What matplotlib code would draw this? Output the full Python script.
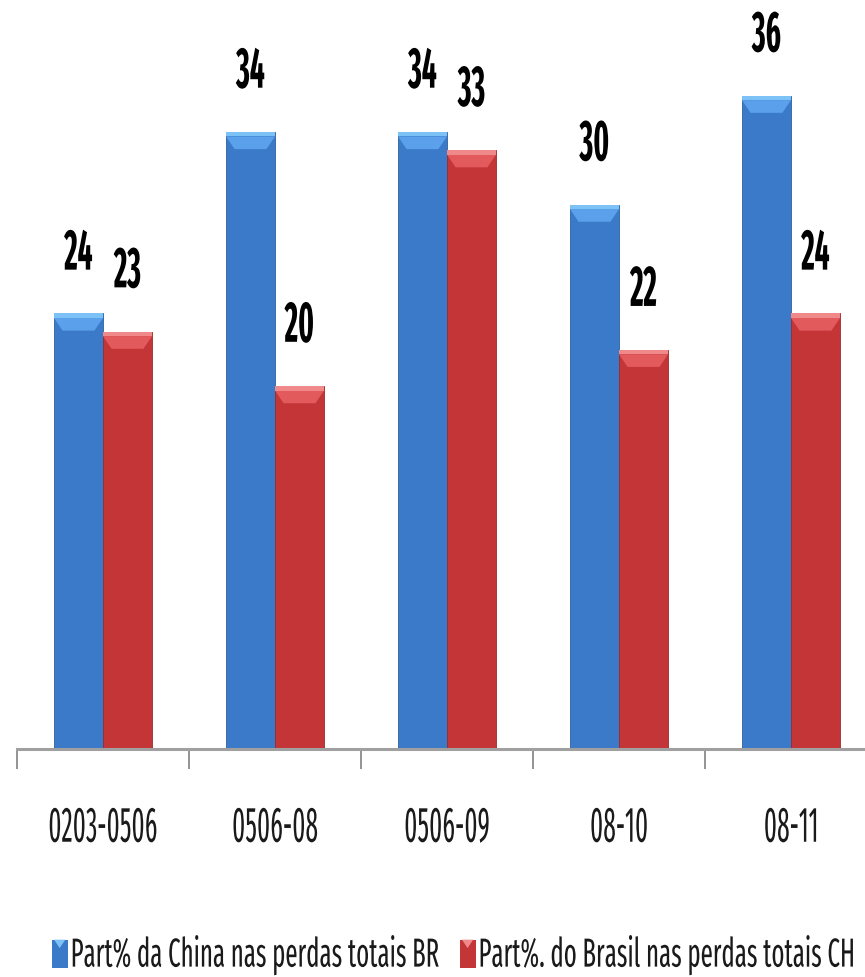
import matplotlib
matplotlib.use("Agg")
import matplotlib.pyplot as plt
import matplotlib.patheffects as pe
from matplotlib import font_manager
from matplotlib.font_manager import FontProperties
from matplotlib.patches import Polygon, Rectangle, Patch
from matplotlib.textpath import TextPath
from matplotlib.transforms import Affine2D
from matplotlib.legend_handler import HandlerBase
import numpy as np

# ---- data -------------------------------------------------------------
categories = ["0203-0506", "0506-08", "0506-09", "08-10", "08-11"]
china_share_br = [24, 34, 34, 30, 36]    # Part% da China nas perdas totais BR
brasil_share_ch = [23, 20, 33, 22, 24]   # Part%. do Brasil nas perdas totais CH
series_labels = ["Part% da China nas perdas totais BR",
                 "Part%. do Brasil nas perdas totais CH"]

# ---- styling ----------------------------------------------------------
BLUE, BLUE_MID, BLUE_TOP = "#3b7ac9", "#5aa0ea", "#7cc2f7"
RED, RED_MID, RED_TOP = "#c43538", "#e35a5c", "#f08a8a"
DPI = 100


def narrow_family():
    """Pick the narrowest sans family that is installed."""
    best = None
    for f in font_manager.fontManager.ttflist:
        name = f.name
        if any(k in name for k in ("Mono", "Serif", "CJK", "Math")):
            continue
        if "ExtraCondensed" in name or "Extra Condensed" in name:
            rank = 0
        elif "Narrow" in name:
            rank = 1
        elif "Condensed" in name or str(f.stretch) in ("condensed", "semi-condensed"):
            rank = 2
        else:
            continue
        if best is None or rank < best[0]:
            best = (rank, name, str(f.stretch))
    if best is None:
        return "DejaVu Sans", "condensed"
    return best[1], best[2]


FAMILY, STRETCH = narrow_family()


def fitted(sample, width_px, height_px, weight="normal", height_sample=None):
    """Font size giving `sample` the wanted width, plus the vertical
    stretch that brings its glyphs to the wanted height."""
    prop = FontProperties(family=FAMILY, stretch=STRETCH, weight=weight)
    ext = TextPath((0, 0), sample, size=100, prop=prop).get_extents()
    size = width_px * 72 / DPI * 100 / ext.width
    hs = height_sample or sample
    hext = TextPath((0, 0), hs, size=100, prop=prop).get_extents()
    natural_h = hext.height / 100 * size * DPI / 72
    prop.set_size(size)
    return prop, height_px / natural_h


class Stretch(pe.AbstractPathEffect):
    """Draw text taller than normal (condensed look), keeping its width."""

    def __init__(self, sy, anchor="center"):
        super().__init__()
        self.sy = sy
        self.anchor = anchor

    def draw_path(self, renderer, gc, tpath, affine, rgbFace=None):
        bb = tpath.get_extents(affine)
        if self.anchor == "bottom":
            y0 = bb.y0
        elif self.anchor == "top":
            y0 = bb.y1
        else:
            y0 = 0.5 * (bb.y0 + bb.y1)
        st = Affine2D().translate(0, -y0).scale(1, self.sy).translate(0, y0)
        renderer.draw_path(gc, tpath, affine + st, rgbFace)


class BevelHandler(HandlerBase):
    """Legend key drawn like a small bevelled bar."""

    def __init__(self, light):
        super().__init__()
        self.light = light

    def create_artists(self, legend, orig_handle, xdescent, ydescent,
                       width, height, fontsize, trans):
        x0, y0 = -xdescent, -ydescent
        base = Rectangle((x0, y0), width, height,
                         facecolor=orig_handle.get_facecolor(),
                         edgecolor="none", transform=trans)
        tri = Polygon([(x0 + 0.15 * width, y0 + height),
                       (x0 + 0.85 * width, y0 + height),
                       (x0 + 0.5 * width, y0 + 0.7 * height)],
                      closed=True, facecolor=self.light, edgecolor="none",
                      transform=trans)
        return [base, tri]


value_prop, value_sy = fitted("24", 28, 40, weight="bold")
tick_prop, tick_sy = fitted("0506-09", 83, 35)
legend_prop, legend_sy = fitted(series_labels[0], 366, 28, height_sample="P")

fig = plt.figure(figsize=(8.65, 9.78), dpi=DPI)
fig.patch.set_facecolor("white")
ax = fig.add_axes([17 / 865, 228 / 978, 848 / 865, 750 / 978])

x = np.arange(len(categories))
w = 0.285
bars_cn = ax.bar(x - w / 2, china_share_br, width=w, color=BLUE,
                 edgecolor="#2f5f9e", linewidth=0.6, zorder=2)
bars_br = ax.bar(x + w / 2, brasil_share_ch, width=w, color=RED,
                 edgecolor="#9a2a2c", linewidth=0.6, zorder=2)

ax.set_xlim(-0.5, (865 - 103) / 172)
ax.set_ylim(0, 750 / 18.15)

# bevelled top of each bar
strip, depth, inset = 0.25, 0.95, 0.05
for bars, mid, top in ((bars_cn, BLUE_MID, BLUE_TOP), (bars_br, RED_MID, RED_TOP)):
    for p in bars:
        bx, bw, bh = p.get_x(), p.get_width(), p.get_height()
        ax.add_patch(Polygon([(bx, bh - strip), (bx + bw, bh - strip),
                              (bx + bw - inset, bh - depth), (bx + inset, bh - depth)],
                             closed=True, facecolor=mid, edgecolor="none", zorder=3))
        ax.add_patch(Rectangle((bx, bh - strip), bw, strip, facecolor=top,
                               edgecolor="none", zorder=3))

# value labels
for bars, vals in ((bars_cn, china_share_br), (bars_br, brasil_share_ch)):
    for p, v in zip(bars, vals):
        ax.annotate(f"{v}", xy=(p.get_x() + p.get_width() / 2, v),
                    xytext=(0, 31.5), textcoords="offset points",
                    ha="center", va="baseline", fontproperties=value_prop,
                    color="black", path_effects=[Stretch(value_sy, "bottom")],
                    zorder=4)

# axes decoration
for s in ("left", "right", "top"):
    ax.spines[s].set_visible(False)
ax.spines["bottom"].set_color("#a0a0a0")
ax.spines["bottom"].set_linewidth(2.2)
ax.set_yticks([])
ax.set_xticks(x, categories)
ax.set_xticks(np.arange(-0.5, len(categories) - 1, 1.0), minor=True)
ax.tick_params(axis="x", which="major", length=0, pad=40.5, labelcolor="#1a1a1a")
ax.tick_params(axis="x", which="minor", length=14.5, width=1.2,
               color="#808080", direction="out")
for lbl in ax.get_xticklabels():
    lbl.set_fontproperties(tick_prop)
    lbl.set_path_effects([Stretch(tick_sy, "top")])

# legend
h_cn = Patch(facecolor=BLUE)
h_br = Patch(facecolor=RED)
fs_px = legend_prop.get_size_in_points() * DPI / 72
leg = fig.legend([h_cn, h_br], series_labels, loc="center",
                 bbox_to_anchor=(454 / 865, 23 / 978), ncol=2, frameon=False,
                 prop=legend_prop,
                 handlelength=16 / fs_px, handleheight=33 / fs_px,
                 handletextpad=3 / fs_px, columnspacing=19 / fs_px,
                 borderpad=0, borderaxespad=0,
                 handler_map={h_cn: BevelHandler(BLUE_TOP),
                              h_br: BevelHandler(RED_TOP)})
for t in leg.get_texts():
    t.set_color("#1a1a1a")
    t.set_path_effects([Stretch(legend_sy, "center")])

fig.savefig("out.png", dpi=DPI)
